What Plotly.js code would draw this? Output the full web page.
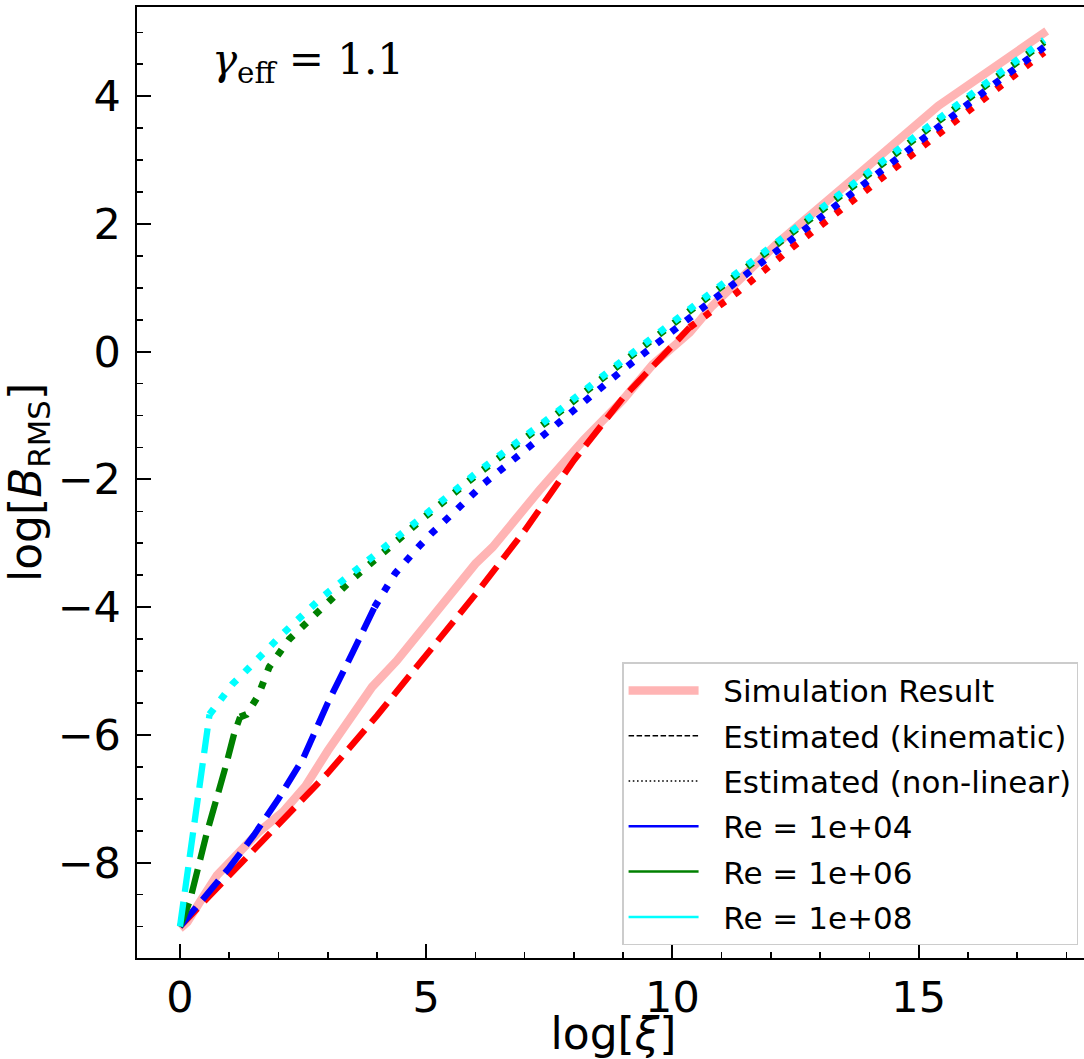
<!DOCTYPE html>
<html><head><meta charset="utf-8">
<script src="https://cdn.plot.ly/plotly-3.0.1.min.js"></script>
<style>html,body{margin:0;padding:0;overflow:hidden;background:#fff}#chart{width:1090px;height:1059px}</style>
</head><body><div id="chart"></div>
<script>
// Simulation result
const simX = [0, 0.15, 0.4, 0.75, 1.15, 1.6, 2.1, 2.55, 3.0, 3.4, 3.9, 4.4, 4.9, 5.45, 6.0, 6.35, 7.3, 8.2, 9.0, 9.6, 10.35, 10.8, 12.15, 13.75, 15.4, 17.6];
const simY = [-9.03, -8.93, -8.62, -8.2, -7.88, -7.52, -7.2, -6.8, -6.25, -5.78, -5.25, -4.84, -4.36, -3.84, -3.32, -3.06, -2.17, -1.38, -0.75, -0.2, 0.3, 0.71, 1.71, 2.76, 3.85, 5.02];

// Red: kinematic (dashed) and non-linear (dotted)
const redKinX = [0, 1, 2, 3, 4, 5, 6, 7, 8, 9, 10, 10.35];
const redKinY = [-9, -8.2, -7.42, -6.6, -5.7, -4.75, -3.8, -2.8, -1.7, -0.72, 0.1, 0.38];
const redNlX = [10.35, 11.3, 12.43, 14.18, 16.2, 17.55];
const redNlY = [0.38, 0.92, 1.63, 2.67, 3.9, 4.69];

// Re = 1e+04 (blue)
const blueKinX = [0, 0.5, 1, 1.5, 2, 2.5, 3, 3.5, 3.95];
const blueKinY = [-9, -8.55, -8.08, -7.57, -7.0, -6.37, -5.5, -4.72, -4.0];
const blueNlX = [3.95, 4.17, 4.37, 4.84, 5.1, 5.65, 6.18, 7.6, 9.0, 10.5, 12.0, 13.5, 15.0, 16.5, 17.55];
const blueNlY = [-4.0, -3.74, -3.47, -3.06, -2.85, -2.45, -2.06, -1.17, -0.28, 0.62, 1.51, 2.41, 3.29, 4.17, 4.77];

// Re = 1e+06 (green)
const greenKinX = [0, 0.2, 0.54, 0.74, 0.94, 1.1, 1.22];
const greenKinY = [-9, -8.6, -7.55, -7.03, -6.46, -5.98, -5.72];
const greenNlX = [1.22, 1.35, 1.58, 1.81, 2.22, 2.76, 3.56, 4.5, 4.9, 6.05, 7.53, 9.0, 10.5, 12.0, 13.5, 15.0, 16.5, 17.55];
const greenNlY = [-5.72, -5.68, -5.4, -4.94, -4.5, -4.1, -3.52, -2.9, -2.63, -1.91, -1.05, -0.16, 0.73, 1.61, 2.5, 3.38, 4.25, 4.85];

// Re = 1e+08 (cyan)
const cyanKinX = [0, 0.2, 0.4, 0.6];
const cyanKinY = [-9, -7.85, -6.75, -5.68];
const cyanNlX = [0.6, 0.8, 1.07, 1.31, 1.7, 2.08, 2.89, 3.76, 4.9, 6.05, 7.53, 9.0, 10.5, 12.0, 13.5, 15.0, 16.5, 17.55];
const cyanNlY = [-5.68, -5.47, -5.2, -5.02, -4.7, -4.42, -3.84, -3.29, -2.6, -1.88, -1.02, -0.13, 0.76, 1.64, 2.53, 3.41, 4.28, 4.88];

const legendNames = ["Simulation Result", "Estimated (kinematic)", "Estimated (non-linear)", "Re = 1e+04", "Re = 1e+06", "Re = 1e+08"];

const DASH = "25px,10px";
const DOT = "7px,11.5px";
const PAD = "&nbsp;&nbsp;";
function seg(x, y, color, dash, width) {
  return {x: x, y: y, type: "scatter", mode: "lines", showlegend: false, hoverinfo: "skip",
          line: {color: color, dash: dash, width: width}};
}
function leg(name, color, dash, width, rank) {
  return {x: [null], y: [null], type: "scatter", mode: "lines", name: PAD + name, showlegend: true,
          legendrank: rank, legendgroup: "g" + rank, line: {color: color, dash: dash, width: width}};
}

const traces = [
  {x: simX, y: simY, type: "scatter", mode: "lines", name: PAD + legendNames[0], legendrank: 1, legendgroup: "g1",
   line: {color: "#ffb4b4", width: 8.5}},
  seg(redKinX, redKinY, "#ff0000", DASH, 6.3),
  seg(redNlX, redNlY, "#ff0000", DOT, 7),
  seg(blueKinX, blueKinY, "#0000ff", DASH, 6.3),
  seg(blueNlX, blueNlY, "#0000ff", DOT, 7),
  seg(greenKinX, greenKinY, "#008000", DASH, 6.3),
  seg(greenNlX, greenNlY, "#008000", DOT, 7),
  seg(cyanKinX, cyanKinY, "#00ffff", DASH, 6.3),
  seg(cyanNlX, cyanNlY, "#00ffff", DOT, 7),
  leg(legendNames[1], "#000000", "5.5px,2.5px", 1.6, 2),
  leg(legendNames[2], "#000000", "1.6px,2.6px", 1.6, 3),
  leg(legendNames[3], "#0000ff", "solid", 2.5, 4),
  leg(legendNames[4], "#008000", "solid", 2.5, 5),
  leg(legendNames[5], "#00ffff", "solid", 2.5, 6)
];

const axisFont = {family: "DejaVu Sans", size: 43, color: "#000"};
const layout = {
  width: 1090, height: 1059,
  margin: {l: 137, r: 0, t: 7, b: 101, pad: 0},
  paper_bgcolor: "#fff", plot_bgcolor: "#fff",
  font: {family: "DejaVu Sans", color: "#000"},
  xaxis: {
    range: [-0.873, 18.48], dtick: 5, tick0: 0,
    showgrid: false, zeroline: false,
    showline: true, mirror: true, linecolor: "#000", linewidth: 1.6,
    ticks: "inside", ticklen: 14, tickwidth: 2, tickcolor: "#000",
    tickfont: axisFont, ticklabelstandoff: 1,
    minor: {dtick: 1, ticks: "inside", ticklen: 6, tickwidth: 1.6, tickcolor: "#000"},
    title: {text: "log[<i>ξ</i>]", font: {family: "DejaVu Sans", size: 44, color: "#000"}, standoff: 10}
  },
  yaxis: {
    range: [-9.493, 5.397], dtick: 2, tick0: 0,
    showgrid: false, zeroline: false,
    showline: true, mirror: true, linecolor: "#000", linewidth: 1.6,
    ticks: "inside", ticklen: 14, tickwidth: 2, tickcolor: "#000",
    tickfont: axisFont, ticklabelstandoff: 6,
    minor: {dtick: 0.5, ticks: "inside", ticklen: 6, tickwidth: 1.6, tickcolor: "#000"},
    title: {text: "log[<i>B</i><sub>RMS</sub>]", font: {family: "DejaVu Sans", size: 44, color: "#000"}, standoff: 6}
  },
  legend: {
    x: 0.509, y: 0.311, xanchor: "left", yanchor: "top",
    bgcolor: "rgba(255,255,255,0.8)", bordercolor: "#cccccc", borderwidth: 1.5,
    font: {family: "DejaVu Sans", size: 31, color: "#000"},
    itemwidth: 70, tracegroupgap: 2, traceorder: "grouped"
  },
  annotations: [{
    xref: "paper", yref: "paper", x: 0.0766, y: 0.942, xanchor: "left", yanchor: "middle",
    showarrow: false, text: "<i>γ</i><sub>eff</sub> = 1.1",
    font: {family: "DejaVu Serif", size: 42, color: "#000"}
  }]
};

Plotly.newPlot("chart", traces, layout, {displayModeBar: false, staticPlot: true});
</script>
</body></html>
